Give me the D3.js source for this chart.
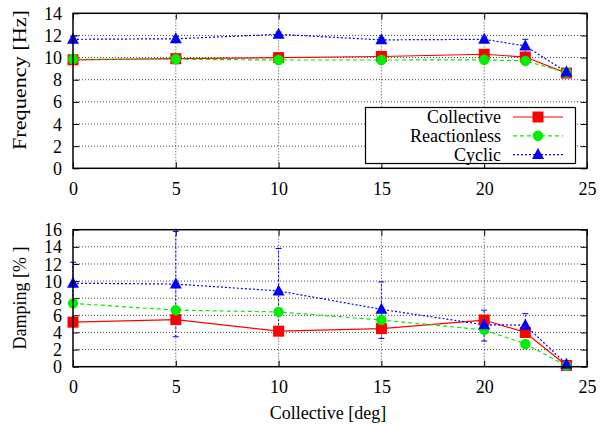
<!DOCTYPE html>
<html>
<head>
<meta charset="utf-8">
<script src="https://cdn.jsdelivr.net/npm/d3@7"></script>
</head>
<body style="margin:0">
<svg id="chart" width="600" height="425" font-family="Liberation Serif"></svg>
<script>
// ---- data ----
const collectiveDeg = [0, 5, 10, 15, 20, 22, 24];
const freqCollective = [9.8, 9.9, 10.0, 10.1, 10.3, 10.05, 8.6];
const freqReactionless = [9.85, 9.85, 9.78, 9.78, 9.8, 9.7, 8.65];
const freqCyclic = [11.65, 11.7, 12.1, 11.6, 11.65, 11.05, 8.7];
const freqCyclicErr = [0.3, 0.2, 0.2, 0.2, 0.2, 0.6, 0.2];
const dampCollective = [5.2, 5.5, 4.15, 4.45, 5.45, 4.0, 0.15];
const dampReactionless = [7.4, 6.6, 6.4, 5.45, 4.3, 2.65, 0.12];
const dampCyclic = [9.75, 9.65, 8.85, 6.7, 4.9, 4.85, 0.3];
const dampCyclicLow = [7.3, 3.5, 3.9, 3.3, 3.0, 3.5, 0.3];
const dampCyclicHigh = [12.2, 15.8, 13.8, 9.9, 6.6, 6.2, 0.3];
const xTicks = [0, 5, 10, 15, 20, 25];
const freqTicks = [0, 2, 4, 6, 8, 10, 12, 14];
const dampTicks = [0, 2, 4, 6, 8, 10, 12, 14, 16];
const seriesNames = ["Collective", "Reactionless", "Cyclic"];

const FONT = "'Liberation Serif'";
const svg = d3.select("#chart");
const colors = {Collective: "#ff0000", Reactionless: "#00ee00", Cyclic: "#0000ff"};
const dashes = {Collective: null, Reactionless: "4,3", Cyclic: "2,2"};
const markers = {Collective: "square", Reactionless: "circle", Cyclic: "triangle"};

function label(sel) {
  return sel.style("font-family", FONT).attr("font-family", "Liberation Serif").attr("font-size", 18);
}

function drawMarker(g, type, x, y, color) {
  if (type === "square") {
    g.append("rect").attr("x", x - 5.5).attr("y", y - 5.5).attr("width", 11).attr("height", 11).attr("fill", color);
  } else if (type === "circle") {
    g.append("circle").attr("cx", x).attr("cy", y).attr("r", 5.2).attr("fill", color);
  } else {
    g.append("path").attr("d", `M${x},${y - 6.5}L${x + 6},${y + 4.5}L${x - 6},${y + 4.5}Z`).attr("fill", color);
  }
}

function panel(cfg) {
  const x = d3.scaleLinear().domain([0, 25]).range([73, 587]);
  const y = d3.scaleLinear().domain(cfg.domain).range([cfg.bottom, cfg.top]);
  const g = svg.append("g");
  const grid = g.append("g").attr("stroke", "#444").attr("stroke-width", 1).attr("stroke-dasharray", "1,2");
  xTicks.slice(1, -1).forEach(t => grid.append("line").attr("x1", x(t)).attr("x2", x(t)).attr("y1", cfg.top).attr("y2", cfg.bottom));
  cfg.ticks.slice(1, -1).forEach(t => grid.append("line").attr("x1", 73).attr("x2", 587).attr("y1", y(t)).attr("y2", y(t)));

  const ax = g.append("g").attr("transform", `translate(0,${cfg.bottom})`)
    .call(d3.axisBottom(x).tickValues(xTicks).tickSizeInner(-6).tickSizeOuter(0));
  const axT = g.append("g").attr("transform", `translate(0,${cfg.top})`)
    .call(d3.axisTop(x).tickValues(xTicks).tickSizeInner(-6).tickSizeOuter(0).tickFormat(""));
  const ay = g.append("g").attr("transform", `translate(73,0)`)
    .call(d3.axisLeft(y).tickValues(cfg.ticks).tickSizeInner(-6).tickSizeOuter(0));
  const ayR = g.append("g").attr("transform", `translate(587,0)`)
    .call(d3.axisRight(y).tickValues(cfg.ticks).tickSizeInner(-6).tickSizeOuter(0).tickFormat(""));
  [ax, axT, ay, ayR].forEach(a => {
    a.attr("font-family", "Liberation Serif").attr("font-size", 18);
    a.select(".domain").remove(); a.selectAll("line").attr("stroke", "#000");
  });
  label(ax.selectAll(".tick text")).attr("y", 14).attr("dy", "0.71em");
  label(ay.selectAll(".tick text")).attr("x", -11).attr("dy", "0.34em");

  cfg.series.forEach(s => {
    const pts = collectiveDeg.map((d, i) => [x(d), y(s.values[i])]);
    if (s.low) {
      const eb = g.append("g").attr("stroke", colors[s.name]).attr("stroke-width", 1);
      collectiveDeg.forEach((d, i) => {
        const y1 = y(s.low[i]), y2 = y(s.high[i]);
        if (Math.abs(y1 - y2) < 1) return;
        eb.append("line").attr("x1", x(d)).attr("x2", x(d)).attr("y1", y1).attr("y2", y2).attr("stroke-dasharray", "2,2");
        eb.append("line").attr("x1", x(d) - 3).attr("x2", x(d) + 3).attr("y1", y1).attr("y2", y1);
        eb.append("line").attr("x1", x(d) - 3).attr("x2", x(d) + 3).attr("y1", y2).attr("y2", y2);
      });
    }
    g.append("path").attr("d", d3.line()(pts)).attr("fill", "none")
      .attr("stroke", colors[s.name]).attr("stroke-width", 1.2)
      .attr("stroke-dasharray", dashes[s.name]);
  });
  cfg.series.forEach(s => {
    const mg = g.append("g");
    collectiveDeg.forEach((d, i) => drawMarker(mg, markers[s.name], x(d), y(s.values[i]), colors[s.name]));
  });

  g.append("rect").attr("x", 73).attr("y", cfg.top).attr("width", 514).attr("height", cfg.bottom - cfg.top)
    .attr("fill", "none").attr("stroke", "#000").attr("stroke-width", 1.5);
}

panel({
  domain: [0, 14], top: 13.3, bottom: 168.3, ticks: freqTicks,
  series: [
    {name: "Collective", values: freqCollective},
    {name: "Reactionless", values: freqReactionless},
    {name: "Cyclic", values: freqCyclic,
     low: freqCyclic.map((v, i) => v - freqCyclicErr[i]), high: freqCyclic.map((v, i) => v + freqCyclicErr[i])}
  ]
});

panel({
  domain: [0, 16], top: 229.7, bottom: 366.7, ticks: dampTicks,
  series: [
    {name: "Collective", values: dampCollective},
    {name: "Reactionless", values: dampReactionless},
    {name: "Cyclic", values: dampCyclic, low: dampCyclicLow, high: dampCyclicHigh}
  ]
});

label(svg.append("text").attr("transform", "translate(26,80) rotate(-90)").attr("text-anchor", "middle"))
  .attr("textLength", 140).attr("lengthAdjust", "spacingAndGlyphs").text("Frequency [Hz]");
label(svg.append("text").attr("transform", "translate(26,298) rotate(-90)").attr("text-anchor", "middle"))
  .text("Damping [% ]");
label(svg.append("text").attr("x", 328).attr("y", 419).attr("text-anchor", "middle"))
  .text("Collective [deg]");

const lg = svg.append("g");
lg.append("rect").attr("x", 365.5).attr("y", 107.5).attr("width", 210).attr("height", 56)
  .attr("fill", "#fff").attr("stroke", "#000").attr("stroke-width", 1.2);
seriesNames.forEach((n, i) => {
  const yy = 117 + i * 18.8;
  label(lg.append("text").attr("x", 501).attr("y", yy).attr("dy", "0.34em").attr("text-anchor", "end")).text(n);
  lg.append("line").attr("x1", 513).attr("x2", 563).attr("y1", yy).attr("y2", yy)
    .attr("stroke", colors[n]).attr("stroke-width", 1.2).attr("stroke-dasharray", dashes[n]);
  drawMarker(lg, markers[n], 538, yy, colors[n]);
});
</script>
</body>
</html>
